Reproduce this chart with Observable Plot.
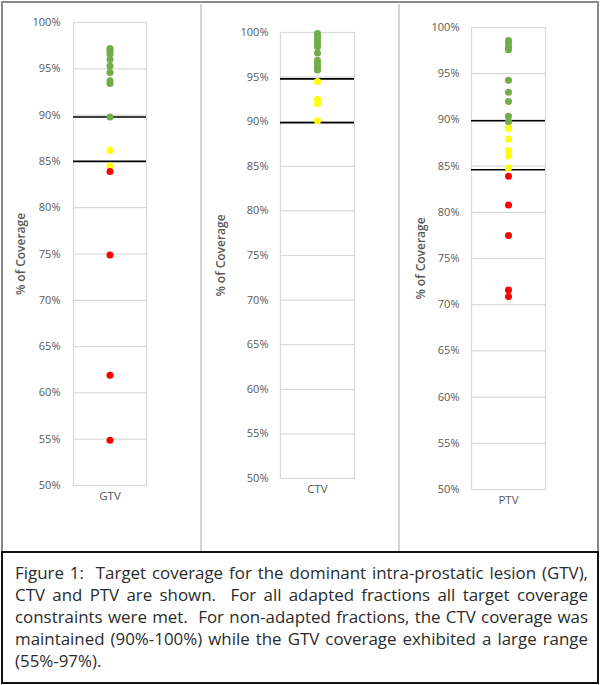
<!DOCTYPE html>
<html>
<head>
<meta charset="utf-8">
<script src="https://cdn.jsdelivr.net/npm/d3@7"></script>
<script src="https://cdn.jsdelivr.net/npm/@observablehq/plot@0.6"></script>
<style>
  html, body { margin: 0; padding: 0; background: #fff; }
  #page { position: relative; width: 600px; height: 685px; overflow: hidden; background: #fff; }
  #outer { position: absolute; left: 1px; top: 1px; width: 594px; height: 552px; border: 2px solid #8a8a8a; border-bottom: none; box-sizing: content-box; }
  .sep { position: absolute; top: 4px; width: 2px; height: 548px; background: #d4d4d4; }
  .panel { position: absolute; top: 0; }
  #caption { position: absolute; left: 1px; top: 551px; border: 2px solid #111; background: #fff;
    font-family: "Open Sans", sans-serif; font-size: 15px; line-height: 22px; color: #2b2b2b; padding: 9px 9px 0 12px; box-sizing: border-box; width: 598px; height: 133px; }
  #caption div { text-align: justify; text-align-last: justify; white-space: nowrap; }
  #caption div.last { text-align-last: left; }
  #measure { position: absolute; visibility: hidden; white-space: nowrap; font-family: "Open Sans", sans-serif; }
</style>
</head>
<body>
<div id="page">
  <div id="outer"></div>
  <div class="sep" style="left:200px"></div>
  <div class="sep" style="left:398px"></div>
  <div id="p0" class="panel" style="left:0px"></div>
  <div id="p1" class="panel" style="left:200px"></div>
  <div id="p2" class="panel" style="left:400px"></div>
  <div id="caption"></div>
</div>
<span id="measure"></span>
<script>
// ---- data (percent coverage per fraction) ----
const structures = ["GTV", "CTV", "PTV"];
const yTicks = [50, 55, 60, 65, 70, 75, 80, 85, 90, 95, 100];

const gtvGreen  = [97.2, 96.9, 96.6, 96.0, 95.3, 94.6, 93.7, 93.4, 89.8];
const gtvYellow = [86.2, 84.5];
const gtvRed    = [83.9, 74.9, 61.9, 54.9];
const gtvLimits = [89.8, 85.0];

const ctvGreen  = [99.9, 99.5, 99.1, 98.8, 98.4, 97.7, 96.9, 96.5, 96.1, 95.8];
const ctvYellow = [94.5, 92.5, 92.0, 90.1];
const ctvRed    = [];
const ctvLimits = [94.8, 89.9];

const ptvGreen  = [98.6, 98.3, 97.9, 97.6, 94.3, 93.0, 92.0, 90.4, 89.8];
const ptvYellow = [89.1, 87.9, 86.7, 86.1, 84.8];
const ptvRed    = [83.9, 80.8, 77.5, 71.6, 70.9];
const ptvLimits = [89.9, 84.6];

const captionLines = [
  "Figure 1:\u00a0 Target coverage for the dominant intra-prostatic lesion (GTV),",
  "CTV and PTV are shown.\u00a0 For all adapted fractions all target coverage",
  "constraints were met.\u00a0 For non-adapted fractions, the CTV coverage was",
  "maintained (90%-100%) while the GTV coverage exhibited a large range",
  "(55%-97%)."
];

const GREEN = "#70ad47", YELLOW = "#ffff00", RED = "#ff0000";

function panel(name, green, yellow, red, limits, m) {
  const H = 550;
  const svg = Plot.plot({
    width: 200,
    height: H,
    marginTop: m.top,
    marginBottom: H - m.bottom,
    marginLeft: m.left,
    marginRight: 200 - m.right,
    style: { fontFamily: "'Open Sans', sans-serif", fontSize: "11px", color: "#595959", background: "transparent", overflow: "visible" },
    x: { type: "band", domain: [name] },
    y: { domain: [50, 100] },
    marks: [
      Plot.gridY(yTicks, { stroke: "#d9d9d9", strokeOpacity: 1, strokeWidth: 1.2 }),
      Plot.frame({ stroke: "#d9d9d9", strokeWidth: 1.2 }),
      Plot.axisY(yTicks, {
        tickSize: 0, tickPadding: m.tickPad, tickFormat: d => d + "%",
        label: "% of Coverage", labelAnchor: "center", labelOffset: m.labelOffset, labelArrow: "none"
      }),
      Plot.axisX({ tickSize: 0, tickPadding: 6, label: null, fontSize: 11.5 }),
      Plot.ruleY(limits, { stroke: "#000", strokeWidth: 1.6 }),
      Plot.dot(green,  { x: () => name, y: d => d, r: 3.5, fill: GREEN }),
      Plot.dot(yellow, { x: () => name, y: d => d, r: 3.5, fill: YELLOW }),
      Plot.dot(red,    { x: () => name, y: d => d, r: 3.5, fill: RED })
    ]
  });
  // enlarge / embolden the axis title only
  svg.querySelectorAll("text").forEach(t => {
    if (t.textContent === "% of Coverage") {
      t.setAttribute("font-size", "12");
      t.setAttribute("font-weight", "600");
      t.style.fontSize = "12px";
    }
  });
  return svg;
}

document.getElementById("p0").append(panel(structures[0], gtvGreen, gtvYellow, gtvRed, gtvLimits,
  { top: 22, bottom: 485, left: 73, right: 146, tickPad: 13, labelOffset: 57 }));
document.getElementById("p1").append(panel(structures[1], ctvGreen, ctvYellow, ctvRed, ctvLimits,
  { top: 32, bottom: 478, left: 80, right: 154, tickPad: 12, labelOffset: 64 }));
document.getElementById("p2").append(panel(structures[2], ptvGreen, ptvYellow, ptvRed, ptvLimits,
  { top: 27, bottom: 489, left: 71, right: 145, tickPad: 12, labelOffset: 55 }));

// caption: pick the largest font size whose lines fit the box width
const avail = 598 - 4 - 21 - 2;
const meas = document.getElementById("measure");
let fs = 17;
while (fs > 11) {
  meas.style.fontSize = fs + "px";
  const widest = Math.max(...captionLines.slice(0, 4).map(t => { meas.textContent = t; return meas.getBoundingClientRect().width; }));
  if (widest <= avail - 6) break;
  fs -= 0.1;
}
const cap = document.getElementById("caption");
cap.style.fontSize = fs + "px";
captionLines.forEach((t, i) => {
  const d = document.createElement("div");
  d.textContent = t;
  if (i === captionLines.length - 1) d.className = "last";
  cap.append(d);
});
</script>
</body>
</html>
